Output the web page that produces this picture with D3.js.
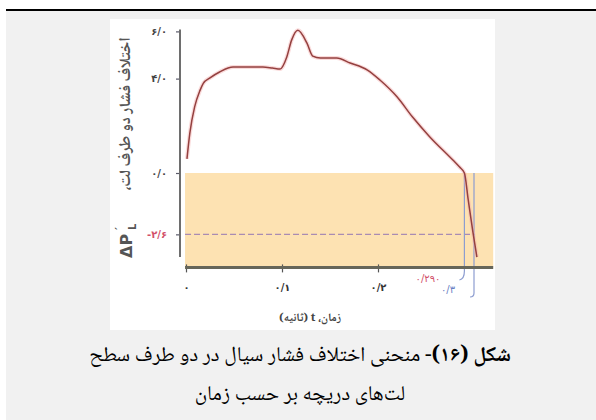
<!DOCTYPE html>
<html>
<head>
<meta charset="utf-8">
<script src="https://cdn.jsdelivr.net/npm/d3@7"></script>
<style>
  html, body { margin: 0; padding: 0; background: #ffffff; }
  svg { display: block; }
</style>
</head>
<body>
<svg id="fig" width="596" height="420"></svg>
<script>
// Pressure difference across the gate leaves versus time
const timeSec = [0.001, 0.004, 0.009, 0.0146, 0.018, 0.025, 0.035, 0.049, 0.08, 0.09, 0.098, 0.105, 0.110, 0.1165, 0.126, 0.132, 0.14, 0.157, 0.171, 0.189, 0.202, 0.22, 0.236, 0.254, 0.278, 0.285, 0.29, 0.294, 0.299, 0.303];
const deltaP  = [0.6, 1.69, 2.8, 3.5, 3.8, 4.03, 4.28, 4.49, 4.49, 4.45, 4.41, 4.92, 5.63, 6.05, 5.5, 4.95, 4.87, 4.87, 4.66, 4.36, 3.94, 3.22, 2.37, 1.53, 0.55, 0.25, 0.0, -1.14, -2.54, -3.56];

const yTicks = [6, 4, 0, -2.6];
const xTicks = [0, 0.1, 0.2];
const limitValue = -2.6;      // dashed limit line
const zeroCrossTime = 0.29;   // time at which the difference reaches zero
const endTime = 0.3;          // end of closing

const yAxisTitle = "اختلاف فشار دو طرف لت،";
const xAxisTitle = "زمان، t (ثانیه)";
const captionBold = "شکل (۱۶)";
const captionRest = "- منحنی اختلاف فشار سیال در دو طرف سطح";
const captionLine2 = "لت‌های دریچه بر حسب زمان";

const faDigits = "۰۱۲۳۴۵۶۷۸۹";
const fa = s => String(s).replace(/\d/g, d => faDigits[+d]).replace(".", "/");

const svg = d3.select("#fig");
const arabicFont = "'Noto Naskh Arabic','Times New Roman','DejaVu Sans',serif";

// page frame: rule, grey band, white figure panel
svg.append("rect").attr("x", 6).attr("y", 11).attr("width", 590).attr("height", 409).attr("fill", "#f1f1f1");
svg.append("rect").attr("x", 6).attr("y", 9).attr("width", 590).attr("height", 2).attr("fill", "#000");
svg.append("rect").attr("x", 110).attr("y", 19).attr("width", 385).attr("height", 311).attr("fill", "#ffffff");

const x = d3.scaleLinear().domain([0, 0.32]).range([186, 493.2]);
const y = d3.scaleLinear().domain([-4, 6]).range([267.4, 31.4]);

// shaded band below zero
svg.append("rect")
  .attr("x", x(-0.001)).attr("y", y(0))
  .attr("width", x(0.32) - x(-0.001)).attr("height", y(-4) - y(0))
  .attr("fill", "#fde2b2");

// dashed limit line
svg.append("line")
  .attr("x1", x(-0.001)).attr("x2", x(0.301))
  .attr("y1", y(limitValue)).attr("y2", y(limitValue))
  .attr("stroke", "#a98bb3").attr("stroke-width", 1.4)
  .attr("stroke-dasharray", "6,3");

// time markers
const markerColor = "#8d9dd0";
svg.append("line")
  .attr("x1", x(zeroCrossTime)).attr("x2", x(zeroCrossTime))
  .attr("y1", y(0)).attr("y2", 271)
  .attr("stroke", markerColor).attr("stroke-width", 1.2);
svg.append("path")
  .attr("d", `M${x(zeroCrossTime)},271 Q${x(zeroCrossTime)},279 ${x(zeroCrossTime) - 5},280`)
  .attr("fill", "none").attr("stroke", markerColor).attr("stroke-width", 1.2);
svg.append("line")
  .attr("x1", x(endTime)).attr("x2", x(endTime))
  .attr("y1", y(0)).attr("y2", 293)
  .attr("stroke", markerColor).attr("stroke-width", 1.2);
svg.append("path")
  .attr("d", `M${x(endTime)},293 Q${x(endTime)},297 ${x(endTime) - 4},297`)
  .attr("fill", "none").attr("stroke", markerColor).attr("stroke-width", 1.2);

// curve
const pts = timeSec.map((t, i) => [t, deltaP[i]]);
const line = d3.line().x(d => x(d[0])).y(d => y(d[1])).curve(d3.curveMonotoneX);
svg.append("path").attr("d", line(pts))
  .attr("fill", "none").attr("stroke", "#f3b0b0").attr("stroke-width", 4).attr("opacity", 0.45);
svg.append("path").attr("d", line(pts))
  .attr("fill", "none").attr("stroke", "#94403f").attr("stroke-width", 1.5);

// y axis
const yAxis = svg.append("g").attr("transform", "translate(180,0)")
  .call(d3.axisLeft(y).tickValues(yTicks).tickSize(4).tickPadding(9)
    .tickFormat(d => fa(d.toFixed(1))));
yAxis.select(".domain").remove();
yAxis.selectAll("line").attr("stroke", "#5a5a6a").attr("stroke-width", 1.2);
yAxis.selectAll("text")
  .attr("font-family", "'DejaVu Sans',sans-serif").attr("font-size", 10)
  .attr("font-weight", "bold").attr("direction", "ltr")
  .attr("fill", d => d === limitValue ? "#d2506a" : "#444");
svg.append("line").attr("x1", 180).attr("x2", 180)
  .attr("y1", y(6.08)).attr("y2", y(-3.56))
  .attr("stroke", "#6e6e6e").attr("stroke-width", 2);

// x axis
const xAxis = svg.append("g").attr("transform", `translate(0,${y(-4)})`)
  .call(d3.axisBottom(x).tickValues(xTicks).tickSize(5).tickPadding(12)
    .tickFormat(d => fa(d)));
xAxis.select(".domain").remove();
xAxis.selectAll("line").attr("stroke", "#555").attr("stroke-width", 1.2).attr("y1", -3);
xAxis.selectAll("text")
  .attr("font-family", "'DejaVu Sans',sans-serif").attr("font-size", 10)
  .attr("font-weight", "bold").attr("direction", "ltr").attr("fill", "#333");
svg.append("line").attr("x1", x(-0.001)).attr("x2", x(0.32))
  .attr("y1", y(-4)).attr("y2", y(-4))
  .attr("stroke", "#66665a").attr("stroke-width", 3);

// annotated times
svg.append("text").attr("x", 428).attr("y", 282)
  .attr("text-anchor", "middle").attr("direction", "ltr")
  .attr("font-family", "'DejaVu Sans',sans-serif").attr("font-size", 10)
  .attr("fill", "#d2506a").text(fa("0.290"));
svg.append("text").attr("x", 448).attr("y", 293)
  .attr("text-anchor", "middle").attr("direction", "ltr")
  .attr("font-family", "'DejaVu Sans',sans-serif").attr("font-size", 10)
  .attr("fill", "#6b7fc4").text(fa("0.3"));

// axis titles
svg.append("text")
  .attr("transform", "translate(130,114) rotate(-90)")
  .attr("text-anchor", "middle").attr("direction", "rtl")
  .attr("font-family", arabicFont).attr("font-size", 16).attr("font-weight", "bold")
  .attr("fill", "#555").text(yAxisTitle);
const dp = svg.append("g").attr("transform", "translate(132,258) rotate(-90)");
dp.append("text").attr("x", 0).attr("y", 0)
  .attr("font-family", "'DejaVu Sans',sans-serif").attr("font-size", 16).attr("font-weight", "bold")
  .attr("fill", "#555").text("ΔP");
dp.append("text").attr("x", 28).attr("y", -9)
  .attr("font-family", "'DejaVu Sans',sans-serif").attr("font-size", 11).attr("font-weight", "bold")
  .attr("fill", "#555").text("′");
dp.append("text").attr("x", 28).attr("y", 4)
  .attr("font-family", "'DejaVu Sans',sans-serif").attr("font-size", 10).attr("font-weight", "bold")
  .attr("fill", "#555").text("L");

svg.append("text").attr("x", 310).attr("y", 321)
  .attr("text-anchor", "middle").attr("direction", "rtl")
  .attr("font-family", arabicFont).attr("font-size", 11.5).attr("font-weight", "bold")
  .attr("fill", "#444").text(xAxisTitle);

// caption
const cap = svg.append("text").attr("x", 300).attr("y", 361)
  .attr("text-anchor", "middle").attr("direction", "rtl")
  .attr("font-family", arabicFont).attr("font-size", 21).attr("fill", "#000");
cap.append("tspan").attr("font-weight", "bold").text(captionBold);
cap.append("tspan").text(captionRest);
svg.append("text").attr("x", 300).attr("y", 400)
  .attr("text-anchor", "middle").attr("direction", "rtl")
  .attr("font-family", arabicFont).attr("font-size", 21).attr("fill", "#000")
  .text(captionLine2);
</script>
</body>
</html>
